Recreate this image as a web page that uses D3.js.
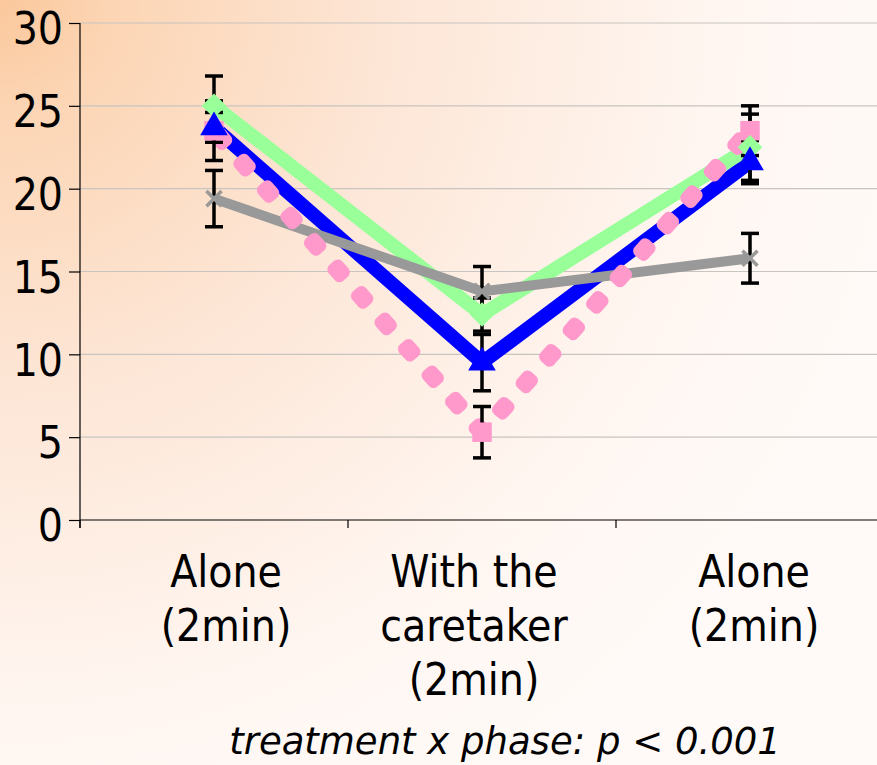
<!DOCTYPE html>
<html>
<head>
<meta charset="utf-8">
<script src="https://cdn.jsdelivr.net/npm/d3@7"></script>
<style>
html,body{margin:0;padding:0;}
svg{display:block;}
</style>
</head>
<body>
<svg id="chart" width="877" height="765"></svg>
<script>
// ---- data ----
const categories = [["Alone","(2min)"],["With the","caretaker","(2min)"],["Alone","(2min)"]];
const catKeys = ["c1","c2","c3"];
const yTicks = [0,5,10,15,20,25,30];
const blueValues  = [23.7, 9.5, 21.6];
const blueErr     = [0.9, 1.7, 1.3];
const greenValues = [25.0, 12.4, 22.5];
const greenErr    = [1.8, 1.0, 2.0];
const grayValues  = [19.4, 13.8, 15.8];
const grayErr     = [1.7, 1.5, 1.5];
const pinkValues  = [23.5, 5.3, 23.5];
const pinkErr     = [1.8, 1.55, 1.5];
const footnote = "treatment x phase: p < 0.001";

// drawing order of lines: blue, green, gray, pink (pink on top)
const series = [
  {name:"blue",  values:blueValues,  err:blueErr,  color:"#0000FF", width:14, dotted:false, marker:"triangle"},
  {name:"green", values:greenValues, err:greenErr, color:"#99FF99", width:14, dotted:false, marker:"diamond"},
  {name:"gray",  values:grayValues,  err:grayErr,  color:"#999999", width:10, dotted:false, marker:"x"},
  {name:"pink",  values:pinkValues,  err:pinkErr,  color:"#FF99CC", width:18, dotted:true,  marker:"square"}
];
const markerOrder = ["pink","gray","green","blue"];

const svg = d3.select("#chart");
const W = 877, H = 765;
const font = "'DejaVu Sans Condensed','DejaVu Sans',sans-serif";

// background gradient
const defs = svg.append("defs");
const grad = defs.append("radialGradient").attr("id","bg")
  .attr("gradientUnits","userSpaceOnUse").attr("cx",0).attr("cy",0).attr("r",920);
grad.append("stop").attr("offset","0%").attr("stop-color","#FBC89C");
grad.append("stop").attr("offset","12%").attr("stop-color","#FCD5B4");
grad.append("stop").attr("offset","42%").attr("stop-color","#FDE6D6");
grad.append("stop").attr("offset","78%").attr("stop-color","#FFF6F1");
grad.append("stop").attr("offset","100%").attr("stop-color","#FFFAF7");
svg.append("rect").attr("width",W).attr("height",H).attr("fill","url(#bg)");

const x = d3.scaleBand().domain(catKeys).range([80, 884]).padding(0);
const y = d3.scaleLinear().domain([0,30]).range([520, 23]);
const cx = k => x(k) + x.bandwidth()/2;

// gridlines
svg.append("g").selectAll("line").data(yTicks.filter(d=>d>0)).join("line")
  .attr("x1",80).attr("x2",W).attr("y1",d=>y(d)).attr("y2",d=>y(d))
  .attr("stroke","#C8C4C0").attr("stroke-width",1.2);

// y axis
const yAxis = svg.append("g").attr("transform","translate(80,0)")
  .call(d3.axisLeft(y).tickValues(yTicks).tickSize(11).tickPadding(6).tickSizeOuter(0));
yAxis.select(".domain").remove();
yAxis.selectAll(".tick line").attr("stroke","#000").attr("stroke-width",1.2);
yAxis.selectAll("text").attr("font-family",font).attr("font-size",44).attr("fill","#000").attr("dy","0.47em");
svg.append("line").attr("x1",80).attr("x2",80).attr("y1",y(30)).attr("y2",528)
  .attr("stroke","#000").attr("stroke-width",1.2);

// x axis
svg.append("line").attr("x1",80).attr("x2",W).attr("y1",y(0)).attr("y2",y(0))
  .attr("stroke","#000").attr("stroke-width",1.2);
svg.append("g").selectAll("line").data(catKeys).join("line")
  .attr("x1",d=>x(d)).attr("x2",d=>x(d)).attr("y1",y(0)).attr("y2",y(0)+8)
  .attr("stroke","#000").attr("stroke-width",1.2);

// x labels
const lab = svg.append("g").selectAll("text").data(catKeys).join("text")
  .attr("font-family",font).attr("font-size",44).attr("fill","#000")
  .attr("text-anchor","middle");
lab.each(function(k,i){
  const t = d3.select(this);
  categories[i].forEach((s,j)=>{
    t.append("tspan").attr("x",cx(k)+ (i===0?12:(i===1?-8:4))).attr("y",587 + j*54).text(s);
  });
});

// lines
const line = d3.line().x((d,i)=>cx(catKeys[i])).y(d=>y(d));
series.forEach(s=>{
  if(!s.dotted){
    svg.append("path").datum(s.values)
      .attr("d",line).attr("fill","none").attr("stroke",s.color)
      .attr("stroke-width",s.width).attr("stroke-linejoin","miter");
  } else {
    // rounded-rectangle dots placed along the data path
    const p = svg.append("path").datum(s.values).attr("d",line)
      .attr("fill","none").attr("stroke","none");
    const node = p.node(), L = node.getTotalLength();
    const g = svg.append("g");
    const period = 35.4, start = 10.6, len = 21, wid = s.width;
    for(let t=start; t<L; t+=period){
      const a = node.getPointAtLength(Math.max(0,t-1)), b = node.getPointAtLength(Math.min(L,t+1));
      const c = node.getPointAtLength(t);
      const ang = Math.atan2(b.y-a.y, b.x-a.x)*180/Math.PI;
      g.append("rect").attr("x",-len/2).attr("y",-wid/2).attr("width",len).attr("height",wid)
        .attr("rx",6).attr("ry",6).attr("fill",s.color)
        .attr("transform",`translate(${c.x},${c.y}) rotate(${ang})`);
    }
  }
});

// error bars
const eb = svg.append("g").attr("stroke","#000").attr("stroke-width",3.5);
series.forEach(s=>{
  s.values.forEach((v,i)=>{
    const xc = cx(catKeys[i]);
    const hi = y(v + s.err[i]), lo = y(v - s.err[i]);
    eb.append("line").attr("x1",xc).attr("x2",xc).attr("y1",hi).attr("y2",lo);
    eb.append("line").attr("x1",xc-9).attr("x2",xc+9).attr("y1",hi).attr("y2",hi);
    eb.append("line").attr("x1",xc-9).attr("x2",xc+9).attr("y1",lo).attr("y2",lo);
  });
});

// markers
markerOrder.forEach(name=>{
  const s = series.find(d=>d.name===name);
  const g = svg.append("g");
  s.values.forEach((v,i)=>{
    const xc = cx(catKeys[i]), yc = y(v);
    if(s.marker==="square"){
      g.append("path").attr("d",d3.symbol(d3.symbolSquare,380)())
        .attr("transform",`translate(${xc},${yc})`).attr("fill",s.color);
    } else if(s.marker==="triangle"){
      g.append("path").attr("d",d3.symbol(d3.symbolTriangle,330)())
        .attr("transform",`translate(${xc},${yc})`).attr("fill",s.color);
    } else if(s.marker==="diamond"){
      g.append("path").attr("d",d3.symbol(d3.symbolSquare,300)())
        .attr("transform",`translate(${xc},${yc}) rotate(45)`).attr("fill",s.color);
    } else {
      g.append("path").attr("d",d3.symbol(d3.symbolX,150)())
        .attr("transform",`translate(${xc},${yc})`).attr("fill","none")
        .attr("stroke",s.color).attr("stroke-width",3.5);
    }
  });
});

// footnote
svg.append("text").attr("x",505).attr("y",754).attr("text-anchor","middle")
  .attr("font-family","'DejaVu Sans',sans-serif").attr("font-style","italic").attr("font-size",37)
  .attr("fill","#000").text(footnote);
</script>
</body>
</html>
